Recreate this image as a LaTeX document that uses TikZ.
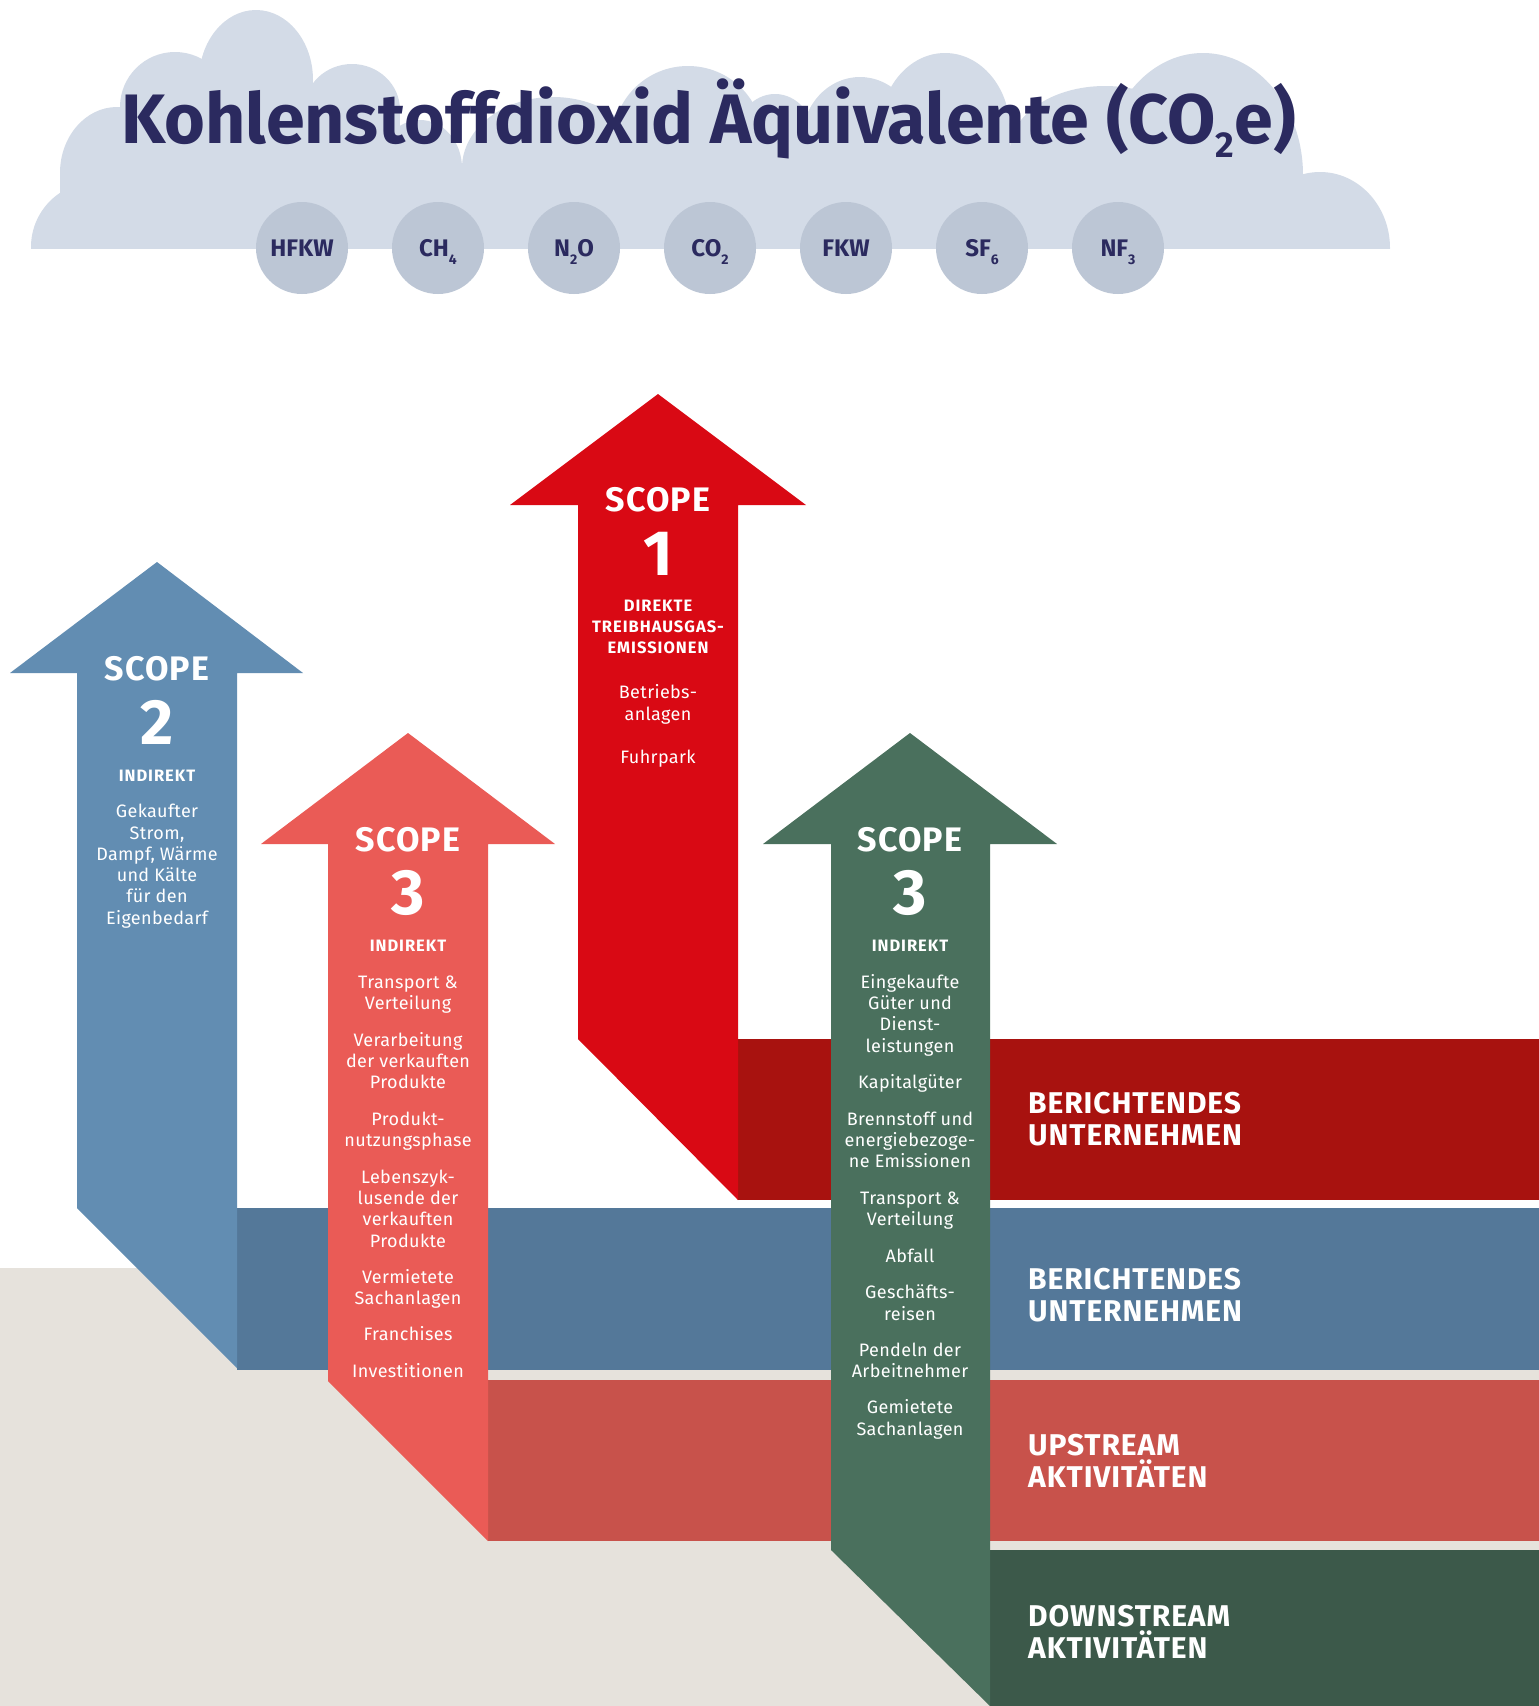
\documentclass[tikz,border=0pt]{standalone}
\usepackage{fontspec}
\setmainfont{Fira Sans}
\newfontfamily\lsA[LetterSpace=3]{Fira Sans}
\newfontfamily\lsB[LetterSpace=6]{Fira Sans}
\newfontfamily\lsC[LetterSpace=2]{Fira Sans}
\definecolor{cloudc}{HTML}{D3DBE7}
\definecolor{gasc}{HTML}{BCC6D5}
\definecolor{navy}{HTML}{2B2A5F}
\definecolor{sonec}{HTML}{D90914}
\definecolor{bredc}{HTML}{A8120F}
\definecolor{stwoc}{HTML}{628DB2}
\definecolor{bbluec}{HTML}{547899}
\definecolor{ssalc}{HTML}{EA5B56}
\definecolor{bupc}{HTML}{C8524B}
\definecolor{sgrc}{HTML}{4A705D}
\definecolor{bdownc}{HTML}{3C594A}
\definecolor{beigec}{HTML}{E6E2DC}
\newcommand\gsub[1]{\raisebox{-8pt}{\fontsize{14}{14}\selectfont #1}}
\tikzset{
  gascirc/.style={circle, fill=gasc, minimum size=92pt, inner sep=0pt, text=navy,
    font=\bfseries\fontsize{24}{24}\selectfont, text height=17pt, text depth=0pt},
  ttl/.style={text=navy, anchor=base west, inner sep=0pt, font=\bfseries\fontsize{70}{70}\selectfont},
  scopetxt/.style={text=white, anchor=base, inner sep=0pt, font=\lsA\bfseries\fontsize{34}{34}\selectfont},
  bignum/.style={text=white, anchor=base, inner sep=0pt, font=\bfseries\fontsize{64}{64}\selectfont},
  capline/.style={text=white, anchor=base, inner sep=0pt, font=\lsB\bfseries\fontsize{16.5}{16.5}\selectfont},
  bodytxt/.style={text=white, anchor=base, inner sep=0pt, font=\lsC\fontsize{18}{18}\selectfont},
  bandlbl/.style={text=white, anchor=base west, inner sep=0pt, font=\lsA\bfseries\fontsize{30}{30}\selectfont}
}
\begin{document}
\begin{tikzpicture}[x=1pt,y=-1pt]
\useasboundingbox (0,0) rectangle (1539,1706);
\fill[white] (0,0) rectangle (1539,1706);
% cloud: bumps given as centre x / shoulder y / x radius / y radius
\begin{scope}
\clip (0,0) rectangle (1539,248.5);
\fill[cloudc] (60,170) rectangle (1303,249);
\foreach \cx/\ty/\rx/\ry in {96/247/65/65, 117/173/57/66, 175/107/55/55, 256/80/57/70,
    352/110/48/46, 420/168/42/48, 553/168/91/71, 688/140/75/74, 775/140/40/46,
    860/140/58/63, 945/130/65/77, 1105/150/95/64, 1203/175/100/122, 1320/248/70/76}
{
  \fill[cloudc] (\cx,\ty) ellipse [x radius=\rx, y radius=\ry];
  \fill[cloudc] (\cx-\rx,\ty) rectangle (\cx+\rx,249);
}
\end{scope}
\node[ttl] (title) at (121,143) {Kohlenstoffdioxid Äquivalente (CO\raisebox{-14pt}{\fontsize{36}{36}\selectfont 2}e)};
% gases
\node[gascirc] (g1) at (302,248) {HFKW};
\node[gascirc] (g2) at (438,248) {CH\gsub{4}};
\node[gascirc] (g3) at (574,248) {N\gsub{2}O};
\node[gascirc] (g4) at (710,248) {CO\gsub{2}};
\node[gascirc] (g5) at (846,248) {FKW};
\node[gascirc] (g6) at (982,248) {SF\gsub{6}};
\node[gascirc] (g7) at (1118,248) {NF\gsub{3}};
% background and bands
\fill[beigec] (0,1268) rectangle (1539,1706);
\fill[bredc] (738,1039) rectangle (1539,1200);
\fill[bbluec] (237,1208) rectangle (1539,1370);
\fill[bupc] (488,1380) rectangle (1539,1541);
\fill[bdownc] (990,1550) rectangle (1539,1706);
% arrows
\fill[stwoc] (157,562) -- (303,673) -- (237,673) -- (237,1368) -- (77,1208) -- (77,673) -- (10,673) -- cycle;
\fill[sonec] (658,394) -- (806,505) -- (738,505) -- (738,1200) -- (578,1039) -- (578,505) -- (510,505) -- cycle;
\fill[ssalc] (408,733) -- (555,844) -- (488,844) -- (488,1541) -- (328,1381) -- (328,844) -- (261,844) -- cycle;
\fill[sgrc] (910,733) -- (1057,844) -- (990,844) -- (990,1706) -- (831,1550) -- (831,844) -- (763,844) -- cycle;
% band labels
\node[bandlbl] (l1a) at (1028,1113) {BERICHTENDES};
\node[bandlbl] (l1b) at (1028,1145) {UNTERNEHMEN};
\node[bandlbl] (l2a) at (1028,1289) {BERICHTENDES};
\node[bandlbl] (l2b) at (1028,1321) {UNTERNEHMEN};
\node[bandlbl] (l3a) at (1028,1455) {UPSTREAM};
\node[bandlbl] (l3b) at (1028,1487) {AKTIVITÄTEN};
\node[bandlbl] (l4a) at (1028,1626) {DOWNSTREAM};
\node[bandlbl] (l4b) at (1028,1658) {AKTIVITÄTEN};
% scope 1
\node[scopetxt] (s1t) at (658,511) {SCOPE};
\node[bignum] (s1n) at (658,575) {1};
\node[capline] (s1c1) at (658,611) {DIREKTE};
\node[capline] (s1c2) at (658,632) {TREIBHAUSGAS-};
\node[capline] (s1c3) at (658,653) {EMISSIONEN};
\node[bodytxt] (s1b1) at (658,698) {Betriebs-};
\node[bodytxt] (s1b2) at (658,720) {anlagen};
\node[bodytxt] (s1b3) at (658,763) {Fuhrpark};
% scope 2
\node[scopetxt] (s2t) at (157,680) {SCOPE};
\node[bignum] (s2n) at (157,744) {2};
\node[capline] (s2c) at (157,781) {INDIREKT};
\foreach \yy/\tt [count=\i] in {817/Gekaufter, 839/{Strom,}, 860/{Dampf, Wärme}, 881/und Kälte, 902/für den, 924/Eigenbedarf}
  \node[bodytxt] (s2b\i) at (157,\yy) {\tt};
% scope 3 upstream
\node[scopetxt] (s3t) at (408,851) {SCOPE};
\node[bignum] (s3n) at (408,914) {3};
\node[capline] (s3c) at (408,951) {INDIREKT};
\foreach \yy/\tt [count=\i] in {988/Transport \&, 1009/Verteilung, 1046/Verarbeitung, 1067/der verkauften, 1088/Produkte, 1125/Produkt-, 1146/nutzungsphase, 1183/Lebenszyk-, 1204/lusende der, 1225/verkauften, 1247/Produkte, 1283/Vermietete, 1304/Sachanlagen, 1340/Franchises, 1377/Investitionen}
  \node[bodytxt] (s3b\i) at (408,\yy) {\tt};
% scope 3 downstream
\node[scopetxt] (s4t) at (910,851) {SCOPE};
\node[bignum] (s4n) at (910,914) {3};
\node[capline] (s4c) at (910,951) {INDIREKT};
\foreach \yy/\tt [count=\i] in {988/Eingekaufte, 1009/Güter und, 1030/Dienst-, 1052/leistungen, 1088/Kapitalgüter, 1125/Brennstoff und, 1146/energiebezoge-, 1167/ne Emissionen, 1204/Transport \&, 1225/Verteilung, 1262/Abfall, 1298/Geschäfts-, 1320/reisen, 1356/Pendeln der, 1377/Arbeitnehmer, 1413/Gemietete, 1435/Sachanlagen}
  \node[bodytxt] (s4b\i) at (910,\yy) {\tt};
\end{tikzpicture}
\end{document}
